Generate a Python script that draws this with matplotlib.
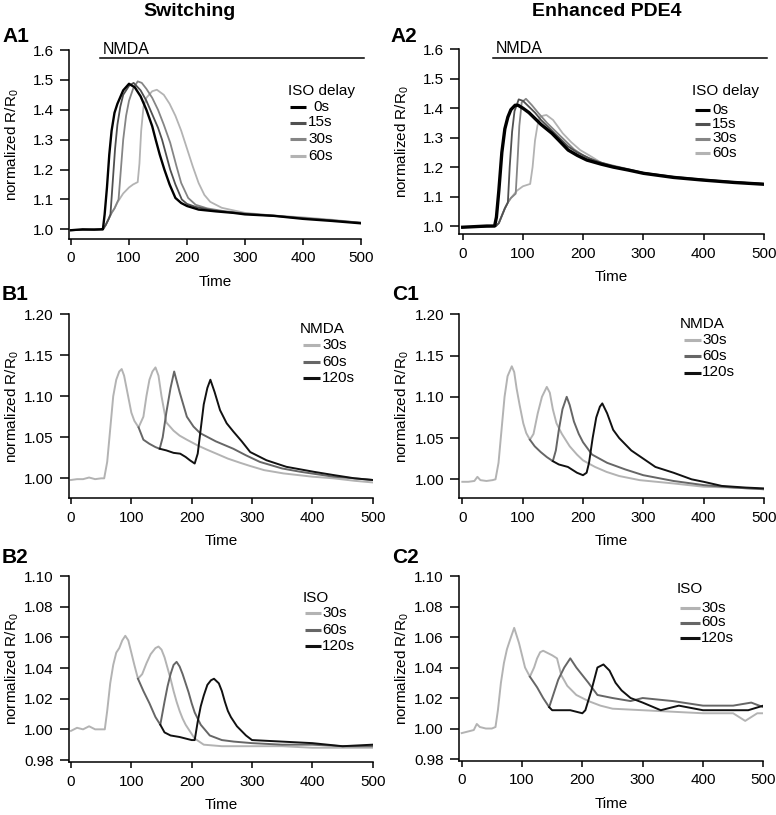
import matplotlib.pyplot as plt
from matplotlib.lines import Line2D

plt.rcParams['font.family'] = ['Liberation Sans', 'DejaVu Sans']
plt.rcParams['mathtext.fontset'] = 'custom'
plt.rcParams['mathtext.rm'] = 'Liberation Sans'
plt.rcParams['mathtext.it'] = 'Liberation Sans:italic'

# ---------------- data ----------------
iso_delays = ['0s', '15s', '30s', '60s']
pulse_labels = ['30s', '60s', '120s']
nmda_bar = [50, 505]

# A1 - switching, ISO delay
a1_t_0 = [0, 20, 40, 53, 55, 58, 62, 66, 70, 75, 80, 90, 100, 110, 120, 130, 140, 146, 153, 161, 170, 180, 190, 200, 220, 250, 280, 300, 350, 400, 450, 500]
a1_v_0 = [0.997, 1.0, 0.999, 1.0, 1.0, 1.05, 1.14, 1.25, 1.33, 1.39, 1.42, 1.465, 1.487, 1.475, 1.445, 1.40, 1.345, 1.30, 1.25, 1.20, 1.15, 1.105, 1.088, 1.078, 1.066, 1.06, 1.055, 1.05, 1.045, 1.035, 1.028, 1.02]
a1_t_15 = [0, 53, 55, 60, 65, 68, 72, 76, 80, 85, 90, 100, 108, 120, 130, 140, 150, 157, 164, 171, 180, 191, 200, 215, 240, 270, 300, 350, 400, 450, 500]
a1_v_15 = [0.997, 1.0, 1.0, 1.015, 1.035, 1.05, 1.16, 1.27, 1.35, 1.41, 1.45, 1.48, 1.49, 1.465, 1.43, 1.385, 1.34, 1.30, 1.25, 1.20, 1.15, 1.10, 1.085, 1.075, 1.065, 1.058, 1.052, 1.045, 1.037, 1.03, 1.022]
a1_t_30 = [0, 53, 55, 60, 65, 70, 75, 82, 86, 90, 95, 100, 107, 115, 122, 130, 140, 150, 160, 171, 182, 190, 202, 215, 235, 260, 300, 350, 400, 450, 500]
a1_v_30 = [0.997, 1.0, 1.0, 1.015, 1.035, 1.055, 1.07, 1.10, 1.20, 1.30, 1.38, 1.43, 1.47, 1.495, 1.49, 1.47, 1.44, 1.40, 1.35, 1.29, 1.21, 1.155, 1.105, 1.082, 1.07, 1.062, 1.053, 1.046, 1.038, 1.03, 1.022]
a1_t_60 = [0, 53, 55, 60, 65, 70, 75, 80, 85, 90, 100, 107, 115, 118, 121, 125, 130, 140, 148, 160, 170, 180, 190, 200, 210, 220, 230, 240, 260, 300, 350, 400, 450, 500]
a1_v_60 = [0.997, 1.0, 1.0, 1.015, 1.035, 1.055, 1.07, 1.09, 1.105, 1.12, 1.14, 1.15, 1.158, 1.22, 1.33, 1.41, 1.44, 1.462, 1.467, 1.45, 1.42, 1.38, 1.33, 1.27, 1.21, 1.155, 1.115, 1.092, 1.072, 1.055, 1.046, 1.04, 1.032, 1.022]

# A2 - enhanced PDE4, ISO delay
a2_t_0 = [0, 20, 40, 53, 56, 60, 65, 70, 75, 80, 87, 92, 100, 110, 117, 130, 148, 160, 175, 190, 206, 230, 250, 275, 300, 350, 399, 450, 499]
a2_v_0 = [0.996, 0.998, 1.0, 1.0, 1.03, 1.12, 1.25, 1.33, 1.37, 1.395, 1.41, 1.41, 1.40, 1.385, 1.371, 1.345, 1.315, 1.29, 1.258, 1.24, 1.224, 1.21, 1.20, 1.19, 1.179, 1.165, 1.156, 1.148, 1.142]
a2_t_15 = [0, 53, 55, 60, 65, 70, 75, 78, 82, 86, 93, 100, 110, 120, 130, 145, 160, 175, 190, 210, 230, 250, 300, 350, 400, 450, 500]
a2_v_15 = [0.996, 1.0, 1.0, 1.01, 1.035, 1.06, 1.08, 1.2, 1.32, 1.39, 1.43, 1.425, 1.405, 1.385, 1.36, 1.33, 1.30, 1.27, 1.25, 1.23, 1.215, 1.203, 1.18, 1.166, 1.157, 1.149, 1.143]
a2_t_30 = [0, 53, 55, 60, 65, 70, 75, 80, 88, 91, 94, 98, 105, 115, 125, 140, 155, 170, 185, 200, 220, 250, 300, 350, 400, 450, 500]
a2_v_30 = [0.996, 1.0, 1.0, 1.01, 1.035, 1.06, 1.08, 1.095, 1.11, 1.22, 1.34, 1.42, 1.432, 1.41, 1.385, 1.35, 1.32, 1.29, 1.26, 1.24, 1.22, 1.205, 1.181, 1.167, 1.157, 1.149, 1.143]
a2_t_60 = [0, 53, 55, 60, 65, 70, 75, 80, 90, 100, 112, 116, 120, 124, 128, 134, 139, 150, 166, 180, 195, 210, 230, 250, 300, 350, 400, 450, 500]
a2_v_60 = [0.996, 1.0, 1.0, 1.01, 1.035, 1.06, 1.08, 1.095, 1.12, 1.135, 1.143, 1.2, 1.29, 1.34, 1.37, 1.375, 1.377, 1.36, 1.315, 1.285, 1.258, 1.24, 1.215, 1.2, 1.18, 1.168, 1.158, 1.15, 1.143]

# B1 - switching, NMDA pulse
b1_t_30 = [0, 10, 20, 30, 40, 50, 55, 60, 65, 70, 75, 80, 84, 88, 92, 96, 100, 105, 112, 120, 125, 130, 135, 140, 145, 150, 158, 170, 180, 192, 210, 225, 241, 260, 280, 297, 320, 352, 400, 435, 470, 500]
b1_v_30 = [0.998, 0.999, 0.999, 1.001, 0.999, 1.0, 1.0, 1.02, 1.06, 1.10, 1.12, 1.13, 1.133, 1.125, 1.11, 1.095, 1.08, 1.07, 1.062, 1.075, 1.10, 1.12, 1.13, 1.135, 1.125, 1.10, 1.068, 1.058, 1.052, 1.047, 1.04, 1.035, 1.030, 1.024, 1.019, 1.015, 1.01, 1.006, 1.002, 1.0, 0.997, 0.995]
b1_t_60 = [112, 120, 130, 140, 147, 152, 158, 165, 171, 180, 192, 203, 214, 240, 269, 290, 313, 350, 380, 435, 470, 500]
b1_v_60 = [1.062, 1.047, 1.042, 1.038, 1.036, 1.05, 1.08, 1.11, 1.13, 1.105, 1.075, 1.063, 1.055, 1.045, 1.036, 1.028, 1.02, 1.012, 1.008, 1.002, 1.0, 0.998]
b1_t_120 = [147, 158, 170, 181, 190, 197, 205, 210, 215, 220, 226, 231, 238, 247, 258, 269, 283, 297, 324, 357, 402, 435, 470, 500]
b1_v_120 = [1.036, 1.034, 1.031, 1.03, 1.026, 1.022, 1.018, 1.03, 1.06, 1.09, 1.11, 1.12, 1.105, 1.083, 1.067, 1.057, 1.045, 1.032, 1.022, 1.014, 1.008, 1.004, 1.0, 0.998]

# C1 - enhanced PDE4, NMDA pulse
c1_t_30 = [0, 10, 20, 25, 30, 40, 50, 55, 60, 65, 70, 75, 82, 86, 90, 95, 101, 106, 112, 118, 125, 132, 140, 145, 150, 156, 165, 178, 190, 200, 220, 239, 260, 294, 350, 400, 450, 500]
c1_v_30 = [0.997, 0.997, 0.998, 1.003, 0.999, 0.998, 0.999, 1.0, 1.02, 1.06, 1.10, 1.125, 1.137, 1.13, 1.11, 1.09, 1.068, 1.056, 1.048, 1.055, 1.08, 1.10, 1.112, 1.105, 1.085, 1.068, 1.055, 1.04, 1.03, 1.023, 1.015, 1.009, 1.004, 0.999, 0.995, 0.991, 0.99, 0.988]
c1_t_60 = [112, 120, 130, 140, 150, 155, 160, 166, 173, 178, 185, 193, 200, 215, 240, 270, 300, 350, 400, 450, 500]
c1_v_60 = [1.048, 1.04, 1.033, 1.027, 1.022, 1.035, 1.06, 1.085, 1.10, 1.09, 1.07, 1.055, 1.045, 1.03, 1.02, 1.012, 1.005, 0.998, 0.993, 0.99, 0.988]
c1_t_120 = [150, 160, 175, 190, 200, 206, 210, 216, 222, 228, 232, 240, 250, 260, 280, 300, 320, 350, 380, 400, 430, 470, 500]
c1_v_120 = [1.022, 1.018, 1.015, 1.008, 1.005, 1.008, 1.02, 1.05, 1.075, 1.088, 1.092, 1.08, 1.06, 1.05, 1.035, 1.025, 1.015, 1.008, 1.0, 0.997, 0.992, 0.99, 0.989]

# B2 - switching, ISO pulse
b2_t_30 = [0, 10, 20, 30, 40, 50, 56, 60, 65, 70, 75, 80, 85, 90, 95, 100, 105, 111, 118, 125, 132, 140, 145, 150, 155, 160, 165, 170, 175, 180, 185, 190, 195, 205, 220, 250, 300, 350, 400, 450, 500]
b2_v_30 = [0.999, 1.001, 1.0, 1.002, 1.0, 1.0, 1.0, 1.012, 1.03, 1.042, 1.05, 1.053, 1.058, 1.061, 1.058, 1.05, 1.042, 1.033, 1.036, 1.043, 1.049, 1.053, 1.054, 1.052, 1.047, 1.04, 1.033, 1.025, 1.018, 1.012, 1.007, 1.003, 1.0, 0.994, 0.99, 0.989, 0.989, 0.989, 0.988, 0.988, 0.988]
b2_t_60 = [111, 120, 130, 140, 148, 155, 160, 165, 170, 175, 180, 185, 190, 195, 200, 205, 215, 230, 250, 270, 300, 350, 400, 450, 500]
b2_v_60 = [1.033, 1.025, 1.017, 1.008, 1.003, 1.018, 1.028, 1.036, 1.042, 1.044, 1.041, 1.036, 1.03, 1.024, 1.017, 1.011, 1.003, 0.996, 0.993, 0.992, 0.991, 0.99, 0.99, 0.989, 0.989]
b2_t_120 = [148, 155, 165, 180, 200, 205, 210, 215, 220, 226, 232, 237, 245, 250, 255, 260, 265, 275, 290, 300, 350, 400, 450, 500]
b2_v_120 = [1.003, 0.998, 0.996, 0.995, 0.993, 0.993, 1.005, 1.015, 1.022, 1.029, 1.032, 1.033, 1.03, 1.025, 1.018, 1.012, 1.008, 1.002, 0.996, 0.993, 0.992, 0.991, 0.989, 0.99]

# C2 - enhanced PDE4, ISO pulse
c2_t_30 = [0, 10, 20, 25, 30, 40, 50, 56, 60, 65, 70, 75, 80, 87, 95, 100, 105, 113, 120, 125, 130, 135, 145, 150, 158, 165, 175, 190, 210, 230, 250, 300, 350, 400, 450, 470, 490, 500]
c2_v_30 = [0.997, 0.998, 0.999, 1.003, 1.001, 1.0, 1.0, 1.001, 1.012, 1.03, 1.043, 1.052, 1.058, 1.066, 1.056, 1.048, 1.04, 1.034, 1.04, 1.046, 1.05, 1.051, 1.049, 1.048, 1.046, 1.035, 1.028, 1.022, 1.018, 1.015, 1.013, 1.012, 1.011, 1.01, 1.01, 1.005, 1.01, 1.01]
c2_t_60 = [113, 125, 135, 145, 150, 160, 170, 180, 190, 200, 210, 225, 250, 280, 300, 350, 400, 450, 480, 500]
c2_v_60 = [1.034, 1.027, 1.02, 1.014, 1.02, 1.032, 1.04, 1.046, 1.04, 1.035, 1.03, 1.022, 1.02, 1.018, 1.02, 1.018, 1.015, 1.015, 1.017, 1.014]
c2_t_120 = [145, 150, 160, 180, 200, 205, 215, 225, 235, 245, 255, 265, 280, 300, 330, 360, 400, 450, 475, 500]
c2_v_120 = [1.014, 1.012, 1.012, 1.012, 1.01, 1.012, 1.025, 1.04, 1.042, 1.038, 1.03, 1.025, 1.02, 1.017, 1.012, 1.015, 1.012, 1.012, 1.012, 1.015]

# ---------------- figure ----------------
W, H = 776, 815
fig = plt.figure(figsize=(W / 100, H / 100), dpi=100)

iso_cols = ['#000000', '#505050', '#858585', '#b3b3b3']
pulse_cols = ['#b3b3b3', '#666666', '#111111']
FS = 11


def fx(x):
    return x / W


def fy(y):
    return 1 - y / H


def make_ax(l, r, t, b, xmin, ylo, yhi, yticks, fmt):
    ax = fig.add_axes([fx(l), fy(b), (r - l) / W, (b - t) / H])
    ax.set_xlim(xmin, 500)
    ax.set_ylim(ylo, yhi)
    for s in ['top', 'right']:
        ax.spines[s].set_visible(False)
    for s in ['left', 'bottom']:
        ax.spines[s].set_linewidth(1.1)
    ax.set_xticks([0, 100, 200, 300, 400, 500])
    ax.set_yticks(yticks)
    ax.set_yticklabels([fmt % v for v in yticks])
    ax.tick_params(axis='x', direction='out', length=4.5, width=1.1, pad=4.5, labelsize=FS)
    ax.tick_params(axis='y', direction='out', length=6.5, width=1.1, pad=4.5, labelsize=FS)
    ax.set_xlabel('Time', fontsize=FS)
    ax.set_ylabel('normalized R/R$_0$', fontsize=FS, va='center')
    ax.xaxis.set_label_coords(0.5, -43 / (b - t), transform=ax.transAxes)
    ax.xaxis.label.set_va('center')
    lx = 12 if l < 300 else 402
    ax.yaxis.set_label_coords((lx - l) / (r - l), 0.5)
    return ax


def legend(title, labels, colors, x_title, y_title, x_line, x_text, ys, x_text0=None):
    fig.text(fx(x_title), fy(y_title), title, fontsize=FS, va='baseline')
    for i, (lab, c, y) in enumerate(zip(labels, colors, ys)):
        fig.add_artist(Line2D([fx(x_line[0]), fx(x_line[1])], [fy(y), fy(y)],
                              color=c, lw=2.2, solid_capstyle='butt'))
        xt = x_text0 if (i == 0 and x_text0 is not None) else x_text
        fig.text(fx(xt), fy(y), lab, fontsize=FS, va='center')


# column titles and panel labels
fig.text(fx(190), fy(15.5), 'Switching', fontsize=14, fontweight='bold', ha='center', va='baseline')
fig.text(fx(607), fy(15.5), 'Enhanced PDE4', fontsize=14, fontweight='bold', ha='center', va='baseline')
for lab, x, y in [('A1', 2, 42), ('A2', 390, 42), ('B1', 2, 300), ('C1', 392, 300),
                  ('B2', 2, 563), ('C2', 392, 563)]:
    fig.text(fx(x), fy(y), lab, fontsize=15, fontweight='bold', va='baseline')

# ---- A1
ax = make_ax(69, 361, 50, 239, -3.45, 0.9676, 1.6, [1.0, 1.1, 1.2, 1.3, 1.4, 1.5, 1.6], '%.1f')
ax.plot(a1_t_60, a1_v_60, color=iso_cols[3], lw=1.3)
ax.plot(a1_t_30, a1_v_30, color=iso_cols[2], lw=1.3)
ax.plot(a1_t_15, a1_v_15, color=iso_cols[1], lw=1.3)
ax.plot(a1_t_0, a1_v_0, color=iso_cols[0], lw=1.7)
ax.plot(nmda_bar, [1.572, 1.572], color='black', lw=1.1, clip_on=False)
ax.text(55, 1.587, 'NMDA', fontsize=11.5, va='baseline')
legend('ISO delay', iso_delays, iso_cols, 288, 95, (290, 306), 308, [107, 122.5, 139, 156], x_text0=313)

# ---- A2
ax = make_ax(459.3, 764, 49.3, 234, -5.6, 0.973, 1.6, [1.0, 1.1, 1.2, 1.3, 1.4, 1.5, 1.6], '%.1f')
ax.plot(a2_t_60, a2_v_60, color=iso_cols[3], lw=1.3)
ax.plot(a2_t_30, a2_v_30, color=iso_cols[2], lw=1.3)
ax.plot(a2_t_15, a2_v_15, color=iso_cols[1], lw=1.3)
ax.plot(a2_t_0, a2_v_0, color=iso_cols[0], lw=2.4)
ax.plot(nmda_bar, [1.569, 1.569], color='black', lw=1.1, clip_on=False)
ax.text(55, 1.587, 'NMDA', fontsize=11.5, va='baseline')
legend('ISO delay', iso_delays, iso_cols, 692, 95, (695, 710), 712, [110, 124, 138.5, 153])

# ---- B1
ax = make_ax(69, 372.7, 314, 498.3, -3.3, 0.9757, 1.20, [1.00, 1.05, 1.10, 1.15, 1.20], '%.2f')
ax.plot(b1_t_30, b1_v_30, color=pulse_cols[0], lw=1.4)
ax.plot(b1_t_60, b1_v_60, color=pulse_cols[1], lw=1.4)
ax.plot(b1_t_120, b1_v_120, color=pulse_cols[2], lw=1.4)
legend('NMDA', pulse_labels, pulse_cols, 300, 333, (303, 320), 322, [345, 361.5, 378])

# ---- C1
ax = make_ax(459.3, 764, 314.3, 498.3, -5, 0.977, 1.20, [1.00, 1.05, 1.10, 1.15, 1.20], '%.2f')
ax.plot(c1_t_30, c1_v_30, color=pulse_cols[0], lw=1.4)
ax.plot(c1_t_60, c1_v_60, color=pulse_cols[1], lw=1.4)
ax.plot(c1_t_120, c1_v_120, color=pulse_cols[2], lw=1.4)
legend('NMDA', pulse_labels, pulse_cols, 680, 328, (684, 701), 702, [340, 356.5, 372.5])

# ---- B2
ax = make_ax(69, 372.7, 576, 762, -3.3, 0.9787, 1.10, [0.98, 1.00, 1.02, 1.04, 1.06, 1.08, 1.10], '%.2f')
ax.plot(b2_t_30, b2_v_30, color=pulse_cols[0], lw=1.4)
ax.plot(b2_t_60, b2_v_60, color=pulse_cols[1], lw=1.4)
ax.plot(b2_t_120, b2_v_120, color=pulse_cols[2], lw=1.4)
legend('ISO', pulse_labels, pulse_cols, 303, 601.5, (305, 321), 322, [613, 630, 646])

# ---- C2
ax = make_ax(459, 763.3, 576, 760.7, -4.5, 0.9789, 1.10, [0.98, 1.00, 1.02, 1.04, 1.06, 1.08, 1.10], '%.2f')
ax.plot(c2_t_30, c2_v_30, color=pulse_cols[0], lw=1.4)
ax.plot(c2_t_60, c2_v_60, color=pulse_cols[1], lw=1.4)
ax.plot(c2_t_120, c2_v_120, color=pulse_cols[2], lw=1.4)
legend('ISO', pulse_labels, pulse_cols, 677, 593, (680, 700), 701, [608, 622.5, 638])

fig.savefig('out.png', dpi=100)
